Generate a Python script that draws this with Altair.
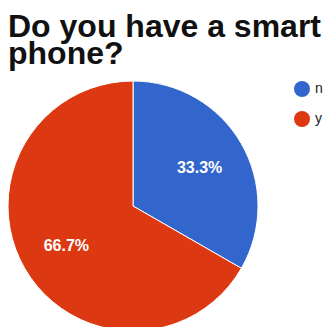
import altair as alt
import pandas as pd

categories = ["n", "y"]
shares = [33.3, 66.7]
labels = ["33.3%", "66.7%"]
colors = ["#3366CC", "#DC3912"]
title_lines = ["Do you have a smart", "phone?"]

df = pd.DataFrame({"cat": categories, "share": shares, "label": labels, "ord": [0, 1]})

cx, cy = 125, 198

base = alt.Chart(df).encode(
    theta=alt.Theta("share:Q", stack=True),
    order=alt.Order("ord:Q"),
)

arcs = base.mark_arc(outerRadius=125, stroke="white", strokeWidth=1).encode(
    x=alt.value(cx),
    y=alt.value(cy),
    color=alt.Color(
        "cat:N",
        scale=alt.Scale(domain=categories, range=colors),
        legend=alt.Legend(
            title=None,
            orient="none",
            legendX=286,
            legendY=73,
            symbolType="circle",
            symbolSize=256,
            symbolStrokeWidth=0,
            rowPadding=14,
            labelFontSize=14,
            labelColor="#222222",
            labelFont="Liberation Sans",
            labelOffset=5,
        ),
    ),
)

texts = base.mark_text(
    radius=77, dy=1, fontSize=16, fontWeight="bold", color="white", font="Liberation Sans"
).encode(
    x=alt.value(cx),
    y=alt.value(cy),
    text="label:N",
)

title_style = dict(
    align="left",
    baseline="alphabetic",
    fontSize=32,
    fontWeight="bold",
    font="Liberation Sans",
    color="#111111",
)
title1 = alt.Chart(pd.DataFrame({"t": [title_lines[0]]})).mark_text(**title_style).encode(
    x=alt.value(0), y=alt.value(29), text="t"
)
title2 = alt.Chart(pd.DataFrame({"t": [title_lines[1]]})).mark_text(**title_style).encode(
    x=alt.value(0), y=alt.value(56), text="t"
)

chart = alt.layer(arcs, texts, title1, title2).properties(
    width=317,
    height=319,
    autosize=alt.AutoSizeParams(type="none"),
    padding=0,
).configure_view(stroke=None)

chart.save("out.html", embed_options={"renderer": "svg", "actions": False})
